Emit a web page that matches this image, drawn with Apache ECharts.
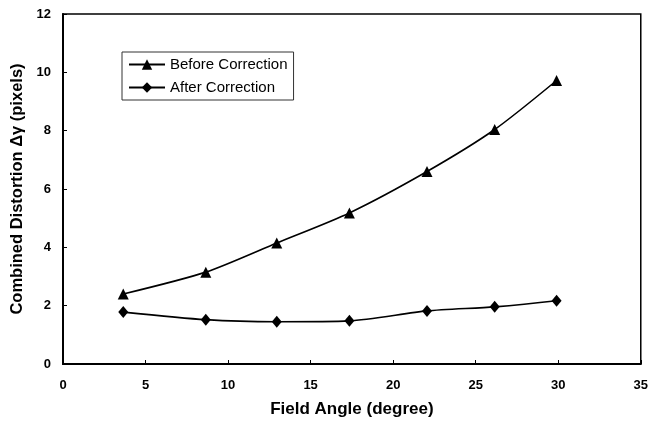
<!DOCTYPE html>
<html><head><meta charset="utf-8">
<script src="https://cdn.jsdelivr.net/npm/echarts@6/dist/echarts.min.js"></script>
<style>html,body{margin:0;padding:0;background:#fff}#c{width:651px;height:428px}</style>
</head><body><div id="c"></div>
<script>
var fieldAngle = [3.65, 8.65, 12.95, 17.35, 22.05, 26.15, 29.9];
var beforeCorrection = [2.4, 3.15, 4.15, 5.18, 6.6, 8.04, 9.72];
var afterCorrection = [1.78, 1.52, 1.45, 1.48, 1.82, 1.96, 2.17];
var xTicks = {min: 0, max: 35, interval: 5};
var yTicks = {min: 0, max: 12, interval: 2};

function pairs(xs, ys){ return xs.map(function(x,i){return [x, ys[i]];}); }
var font = 'Liberation Sans, Arial, sans-serif';
var chart = echarts.init(document.getElementById('c'), null, {renderer:'canvas'});
chart.setOption({
  animation: false,
  backgroundColor: '#fff',
  grid: {left: 63, right: 8, top: 14, bottom: 64, show: true, borderColor: '#000', borderWidth: 1.5},
  legend: {
    orient: 'vertical', left: 122, top: 52,
    padding: [5, 6, 5, 6], itemGap: 8, itemWidth: 36, itemHeight: 13,
    borderColor: '#333', borderWidth: 1,
    textStyle: {fontFamily: font, fontSize: 15, color: '#000'},
    data: ['Before Correction', 'After Correction']
  },
  xAxis: {
    type: 'value', min: xTicks.min, max: xTicks.max, interval: xTicks.interval,
    name: 'Field Angle (degree)', nameLocation: 'middle', nameGap: 37,
    nameTextStyle: {fontFamily: font, fontSize: 17, fontWeight: 'bold', color: '#000'},
    axisLine: {lineStyle: {color: '#000', width: 2}},
    axisTick: {inside: true, length: 4, lineStyle: {color: '#000'}},
    axisLabel: {fontFamily: font, fontSize: 13, fontWeight: 'bold', color: '#000', margin: 15},
    splitLine: {show: false}
  },
  yAxis: {
    type: 'value', min: yTicks.min, max: yTicks.max, interval: yTicks.interval,
    name: 'Combined Distortion \u0394\u03b3 (pixels)', nameLocation: 'middle', nameGap: 37,
    nameTextStyle: {fontFamily: font, fontSize: 16.5, fontWeight: 'bold', color: '#000'},
    axisLine: {lineStyle: {color: '#000', width: 2}},
    axisTick: {inside: true, length: 4, lineStyle: {color: '#000'}},
    axisLabel: {fontFamily: font, fontSize: 13, fontWeight: 'bold', color: '#000', margin: 12},
    splitLine: {show: false}
  },
  series: [
    {name: 'Before Correction', type: 'line', smooth: 0.25, data: pairs(fieldAngle, beforeCorrection),
     symbol: 'triangle', symbolSize: 11, itemStyle: {color: '#000'}, lineStyle: {color: '#000', width: 1.6}},
    {name: 'After Correction', type: 'line', smooth: 0.25, data: pairs(fieldAngle, afterCorrection),
     symbol: 'diamond', symbolSize: [10, 12], itemStyle: {color: '#000'}, lineStyle: {color: '#000', width: 1.6}}
  ]
});
</script></body></html>
